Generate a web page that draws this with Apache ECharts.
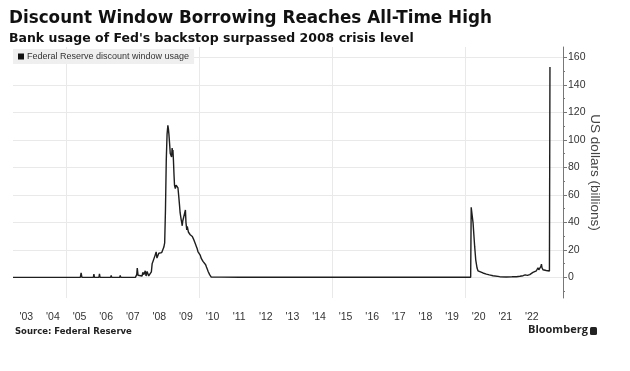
<!DOCTYPE html>
<html><head><meta charset="utf-8">
<script src="https://cdn.jsdelivr.net/npm/echarts@6/dist/echarts.min.js"></script>
<style>html,body{margin:0;padding:0;background:#fff}#c{width:630px;height:371px}</style>
</head><body><div id="c"></div>
<script>
// Time as decimal years, value in US$ billions
const yearFrac = [
  2003.0, 2005.53, 2005.56, 2005.59, 2006.02, 2006.04, 2006.06, 2006.23, 2006.25, 2006.27,
  2006.67, 2006.69, 2006.71, 2007.01, 2007.03, 2007.05, 2007.6, 2007.65, 2007.67, 2007.70,
  2007.85, 2007.88, 2007.92, 2007.97, 2008.0, 2008.04, 2008.1, 2008.15, 2008.2, 2008.23,
  2008.26, 2008.3, 2008.34, 2008.38, 2008.41, 2008.44, 2008.48, 2008.51, 2008.55, 2008.59,
  2008.63, 2008.67, 2008.70, 2008.73, 2008.76, 2008.79, 2008.82, 2008.84, 2008.86, 2008.89,
  2008.91, 2008.94, 2008.96, 2008.98, 2009.0, 2009.01, 2009.03, 2009.05, 2009.07, 2009.10,
  2009.13, 2009.16, 2009.20, 2009.23, 2009.26, 2009.28, 2009.32, 2009.34, 2009.36, 2009.38,
  2009.41, 2009.43, 2009.45, 2009.48, 2009.50, 2009.51, 2009.53, 2009.55, 2009.57, 2009.59,
  2009.61, 2009.66, 2009.70, 2009.74, 2009.78, 2009.82, 2009.86, 2009.89, 2009.92, 2009.95,
  2010.01, 2010.04, 2010.07, 2010.10, 2010.14, 2010.19, 2010.24, 2010.27, 2010.30, 2010.33,
  2010.36, 2010.39, 2010.41, 2010.45, 2010.85, 2010.88, 2010.91, 2011.5, 2015.0, 2020.20,
  2020.22, 2020.25, 2020.29, 2020.32, 2020.35, 2020.39, 2020.44, 2020.475, 2020.54, 2020.66,
  2020.79, 2020.9, 2021.04, 2021.29, 2021.54, 2021.75, 2021.92, 2022.05, 2022.17, 2022.25,
  2022.29, 2022.33, 2022.38, 2022.42, 2022.48, 2022.54, 2022.6, 2022.67, 2022.73, 2022.76,
  2022.79, 2022.84, 2022.86, 2022.88, 2022.92, 2022.95, 2022.98, 2023.04, 2023.10, 2023.16,
  2023.18
];
const usage = [
  0, 0, 3.2, 0, 0, 2.4, 0, 0, 2.6, 0,
  0, 1.5, 0, 0, 1.5, 0, 0, 2, 6.8, 1.5,
  1.0, 3.6, 2, 4.8, 1, 4.3, 1, 1.2, 4, 10,
  11.6, 13, 16, 18.5, 14, 15, 17.5, 17.8, 17.5, 18,
  20, 22, 25, 49, 85, 104, 110.6, 108, 104, 96,
  90, 89, 87.6, 94, 91, 92.5, 85, 75, 67, 64.5,
  67, 66, 65, 58.7, 52, 47, 42, 40, 37.5, 41,
  42, 40, 42, 49, 40, 39.5, 34.5, 37, 38, 33,
  34, 31, 30.5, 29.7, 28, 26, 24, 22.5, 21, 18.8,
  17.8, 16, 14, 13, 11.6, 10.5, 9.2, 7.5, 6, 4.5,
  3.4, 2, 0.7, 0.2, 0.2, 0.8, 0.2, 0.1, 0.1, 0.1,
  51, 46, 39.6, 31, 22.5, 12.8, 6.8, 4.8, 3.6, 3.2,
  2.4, 1.8, 1.2, 0.5, 0.3, 0.4, 0.5, 0.8, 1.2, 1.8,
  2.2, 1.4, 2.4, 2, 3, 3.6, 4, 4.8, 7, 5.5,
  5.8, 8, 9.6, 7, 5.5, 4.5, 4.8, 5, 4.6, 4.6,
  152.9
];
const yearLabels = ["'03","'04","'05","'06","'07","'08","'09","'10","'11","'12",
  "'13","'14","'15","'16","'17","'18","'19","'20","'21","'22"];
const firstLabelYear = 2003;
const yTickValues = [0, 20, 40, 60, 80, 100, 120, 140, 160];
const yMinorTicks = [-10, 10, 30, 50, 70, 90, 110, 130, 150];
const xGridYears = [2005, 2010, 2015, 2020];

const labelPositions = yearLabels.map((_, i) => firstLabelYear + i + 0.5);
const data = yearFrac.map((t, i) => [t, usage[i]]);

const chart = echarts.init(document.getElementById('c'), null, {renderer: 'canvas'});
const gridColor = '#e9e9e9';
chart.setOption({
  animation: false,
  backgroundColor: '#fff',
  title: {
    text: 'Discount Window Borrowing Reaches All-Time High',
    subtext: "Bank usage of Fed's backstop surpassed 2008 crisis level",
    left: 9, top: 10, itemGap: 5, padding: 0,
    textStyle: {fontFamily: 'DejaVu Sans', fontWeight: 'bold', fontSize: 16.8, color: '#111'},
    subtextStyle: {fontFamily: 'DejaVu Sans', fontWeight: 'bold', fontSize: 12.5, color: '#111'}
  },
  legend: {
    left: 13, top: 49, padding: [3, 5, 3, 5],
    backgroundColor: '#efefef',
    icon: 'rect', itemWidth: 6, itemHeight: 6,
    textStyle: {fontFamily: 'Liberation Sans', fontSize: 9, color: '#333', padding: [0, 0, 0, -2]},
    data: ['Federal Reserve discount window usage']
  },
  grid: {left: 13, right: 67, top: 47, bottom: 73, containLabel: false},
  xAxis: {
    type: 'value', min: 2003, max: 2023.67,
    axisLine: {show: false}, axisTick: {show: false}, splitLine: {show: false},
    axisLabel: {
      customValues: labelPositions, margin: 14,
      fontFamily: 'Liberation Sans', fontSize: 10.5, color: '#333',
      formatter: v => yearLabels[Math.round(v - firstLabelYear - 0.5)]
    }
  },
  yAxis: [{
    type: 'value', position: 'right', min: -15, max: 167.5,
    axisLine: {show: true, lineStyle: {color: '#777', width: 1}},
    axisTick: {show: true, customValues: yTickValues, length: 4, lineStyle: {color: '#777'}},
    axisLabel: {customValues: yTickValues, margin: 5, fontFamily: 'Liberation Sans', fontSize: 10.5, color: '#333'},
    splitLine: {show: false},
    name: 'US dollars (billions)', nameLocation: 'middle', nameRotate: -90, nameGap: 25,
    nameMoveOverlap: false,
    nameTextStyle: {fontFamily: 'Liberation Sans', fontSize: 13.5, color: '#444'}
  }, {
    type: 'value', position: 'right', min: -15, max: 167.5,
    axisLine: {show: false},
    axisTick: {show: true, customValues: yMinorTicks, length: 2, lineStyle: {color: '#777'}},
    axisLabel: {show: false}, splitLine: {show: false}
  }],
  series: [{
    name: 'Federal Reserve discount window usage',
    type: 'line', data: data, showSymbol: false, symbol: 'none', z: 3,
    lineStyle: {color: '#1e1e1e', width: 1.4},
    itemStyle: {color: '#111'},
    markLine: {
      silent: true, symbol: 'none', z: 1, animation: false,
      label: {show: false},
      lineStyle: {color: gridColor, type: 'solid', width: 1},
      data: yTickValues.map(v => ({yAxis: v})).concat(xGridYears.map(v => ({xAxis: v})))
    }
  }],
  graphic: [
    {type: 'text', left: 15, top: 327, style: {text: 'Source: Federal Reserve', font: 'bold 8.5px "DejaVu Sans"', fill: '#222'}},
    {type: 'text', left: 528, top: 324, style: {text: 'Bloomberg', font: 'bold 11px "Open Sans"', fill: '#222'}},
    {type: 'rect', left: 590, top: 327, shape: {width: 7, height: 8, r: 1.5}, style: {fill: '#222'}}
  ]
});
</script></body></html>
